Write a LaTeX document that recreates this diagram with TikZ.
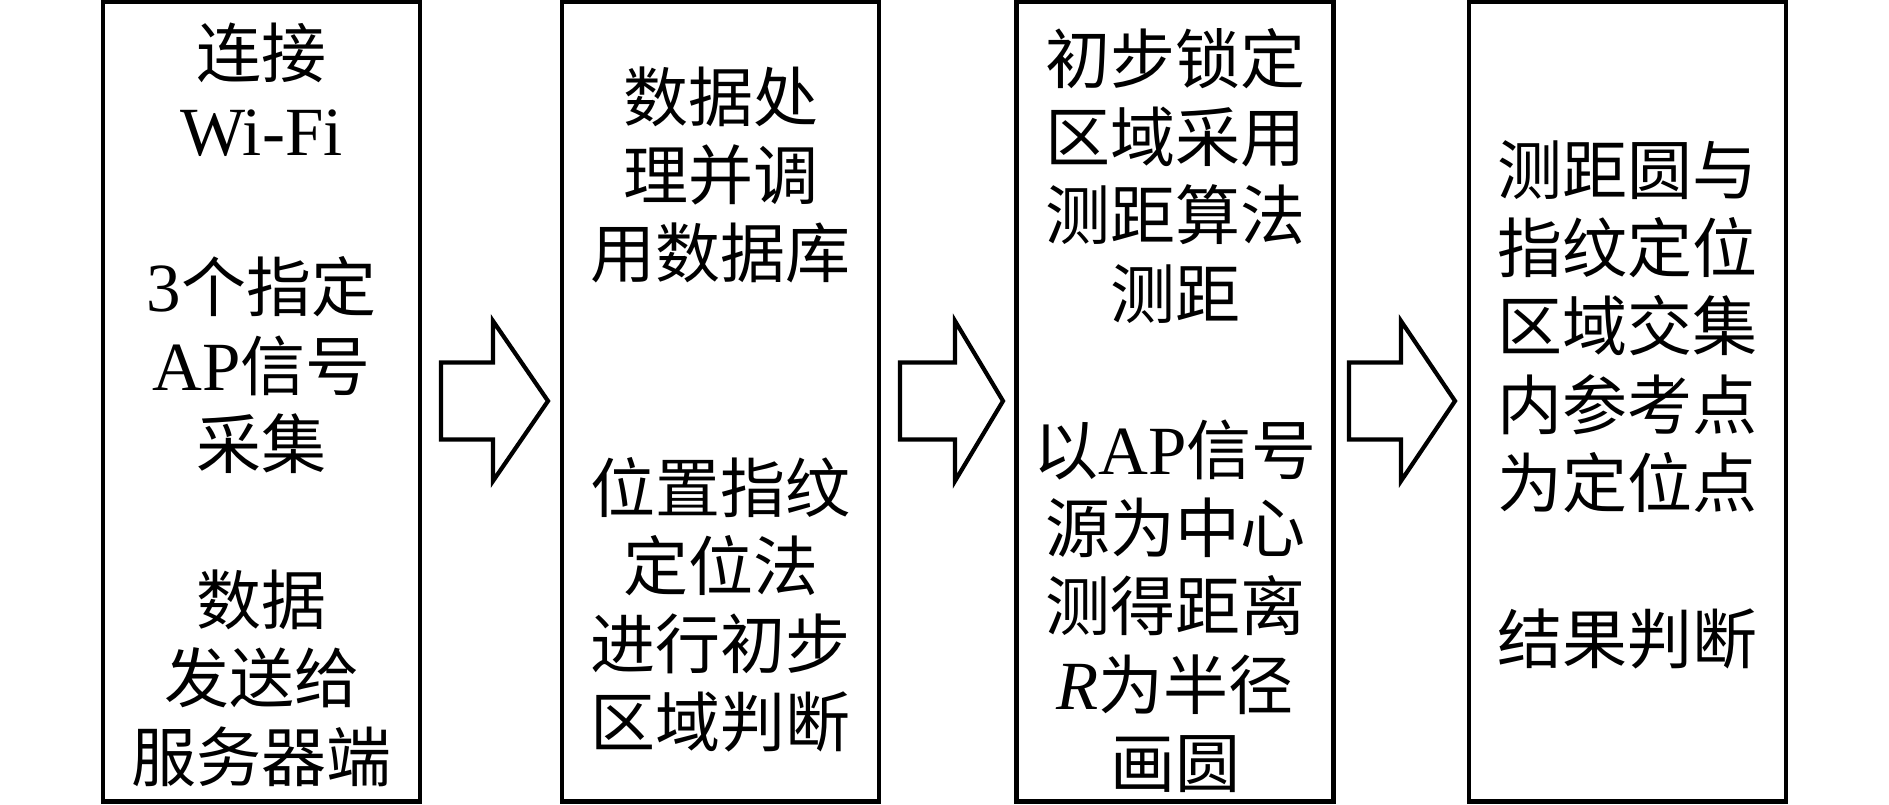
\documentclass[tikz,border=0pt]{standalone}
\usepackage{fontspec}
\setmainfont{Liberation Serif}
\newfontfamily\cjk{Noto Sans CJK SC}
\newcommand\latn[1]{{\rmfamily\fontsize{34.5pt}{39pt}\selectfont #1}}
\begin{document}
\begin{tikzpicture}[x=0.5pt,y=-0.5pt,
  box/.style={draw, line width=2.2pt, minimum width=158.5pt, minimum height=399.75pt, inner sep=0pt},
  txt/.style={align=center, inner sep=0pt, font=\cjk\fontsize{32.5pt}{39.1pt}\selectfont},
  arrowline/.style={draw, line width=2.1pt, line join=miter, fill=white}]
\useasboundingbox (0,0) rectangle (1889,804);
% boxes
\node[box] (b1) at (261.5,401.75) {};
\node[box] (b2) at (720.5,401.75) {};
\node[box] (b3) at (1175,401.75) {};
\node[box] (b4) at (1627.5,401.75) {};
% texts
\node[txt] (t1) at (261.5,404.5) {连接\\\latn{Wi-Fi}\\[39.1pt]\latn{3}个指定\\\latn{AP}信号\\采集\\[39.1pt]数据\\发送给\\服务器端};
\node[txt] (t2) at (720.5,409.5) {数据处\\理并调\\用数据库\\[78.2pt]位置指纹\\定位法\\进行初步\\区域判断};
\node[txt] (t3) at (1175,410.5) {初步锁定\\区域采用\\测距算法\\测距\\[39.1pt]以\latn{AP}信号\\源为中心\\测得距离\\\latn{\textit{R}}为半径\\画圆};
\node[txt] (t4) at (1627.5,405) {测距圆与\\指纹定位\\区域交集\\内参考点\\为定位点\\[39.1pt]结果判断};
% block arrows
\draw[arrowline] (441,362.5) -- (493,362.5) -- (493,321) -- (548,401) -- (493,481) -- (493,439.5) -- (441,439.5) -- cycle;
\draw[arrowline] (900,362.5) -- (955,362.5) -- (955,321) -- (1003,401) -- (955,481) -- (955,439.5) -- (900,439.5) -- cycle;
\draw[arrowline] (1349,362.5) -- (1401,362.5) -- (1401,321) -- (1455,401) -- (1401,481) -- (1401,439.5) -- (1349,439.5) -- cycle;
\end{tikzpicture}
\end{document}
